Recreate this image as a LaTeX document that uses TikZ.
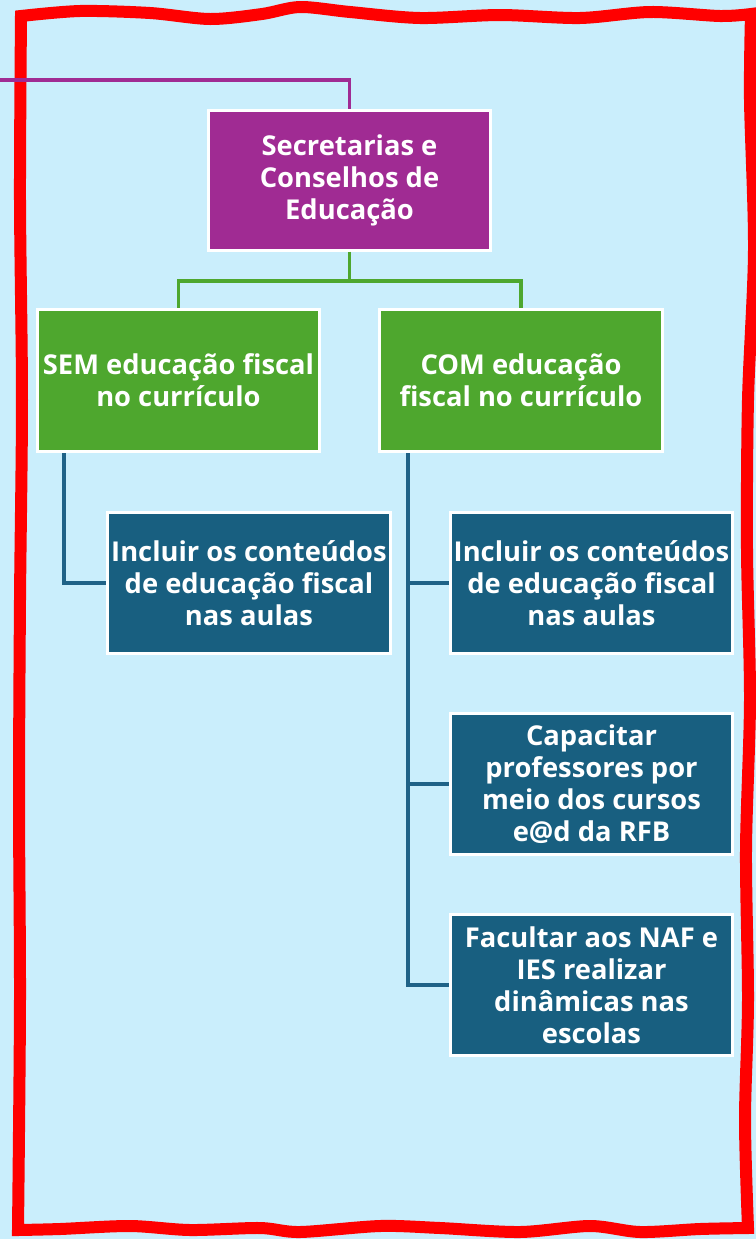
\documentclass[tikz,border=0pt]{standalone}
\usepackage{fontspec}
\setmainfont{Open Sans}
\definecolor{bgblue}{HTML}{CAEEFC}
\definecolor{purp}{HTML}{A02B93}
\definecolor{grn}{HTML}{4EA72E}
\definecolor{dblue}{HTML}{185F80}
\definecolor{lblue}{HTML}{1F6287}
\tikzset{
  box/.style={draw=white, line width=2.25pt, text=white, align=center,
    minimum width=212pt, minimum height=106pt, inner sep=0pt,
    font=\bfseries\fontsize{20.5}{24}\selectfont},
  conn/.style={line width=2.4pt},
}
\begin{document}
\begin{tikzpicture}[x=0.75pt,y=-0.75pt]
\fill[bgblue] (0,0) rectangle (756,1239);
\useasboundingbox (0,0) rectangle (756,1239);
% red wavy border
\draw[red, line width=9pt, line join=miter]
  plot[smooth] coordinates {(21,16) (80,11) (150,13) (210,19) (262,14) (300,7) (350,12) (420,18) (500,15) (580,18) (650,12) (720,16) (751,14)}
  -- plot[smooth] coordinates {(751,14) (750,100) (754,250) (748,400) (747,550) (750,700) (746,850) (748,1000) (745,1120) (748,1228)}
  -- plot[smooth] coordinates {(748,1228) (700,1229) (640,1232) (590,1226) (520,1232) (440,1228) (380,1226) (300,1232) (260,1228) (190,1230) (130,1226) (60,1229) (18,1230)}
  -- plot[smooth] coordinates {(18,1230) (20,1000) (19,800) (20,600) (22,400) (20,200) (21,16)} -- cycle;

\node[box, fill=purp, minimum width=212pt, minimum height=105pt] (sec) at (349.5,180) {Secretarias e\\Conselhos de\\Educação};
\node[box, fill=grn] (sem) at (178.5,380.5) {SEM educação fiscal\\no currículo};
\node[box, fill=grn] (com) at (521,380.5) {COM educação\\fiscal no currículo};
\node[box, fill=dblue] (b1) at (249,583) {Incluir os conteúdos\\de educação fiscal\\nas aulas};
\node[box, fill=dblue] (b2) at (591.5,583) {Incluir os conteúdos\\de educação fiscal\\nas aulas};
\node[box, fill=dblue] (b3) at (591.5,784) {Capacitar\\professores por\\meio dos cursos\\e@d da RFB};
\node[box, fill=dblue] (b4) at (591.5,985) {Facultar aos NAF e\\IES realizar\\dinâmicas nas\\escolas};

\coordinate (pin) at (0,80);
\coordinate (gsplit) at (349.5,281);
\coordinate (ltop) at (64,453);
\coordinate (rtop) at (408,453);

\draw[conn, purp] (pin) -| (sec.north);
\draw[conn, grn] (sec.south) -- (gsplit) -| (sem.north);
\draw[conn, grn] (gsplit) -| (com.north);
\draw[conn, lblue] (ltop) |- (b1.west);
\draw[conn, lblue] (rtop) |- (b4.west);
\draw[conn, lblue] (rtop |- b2.west) -- (b2.west);
\draw[conn, lblue] (rtop |- b3.west) -- (b3.west);
\end{tikzpicture}
\end{document}
